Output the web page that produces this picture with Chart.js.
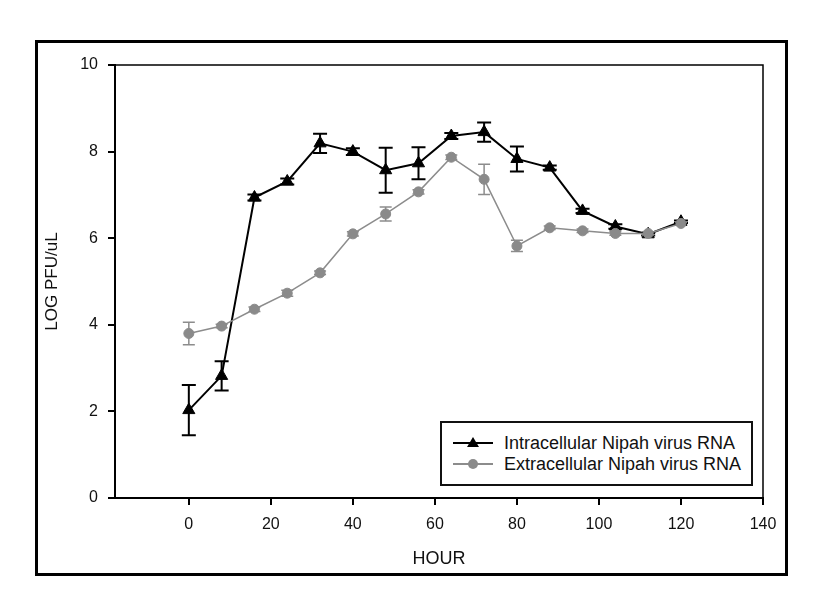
<!DOCTYPE html>
<html>
<head>
<meta charset="utf-8">
<script src="https://cdn.jsdelivr.net/npm/chart.js@4.4.0/dist/chart.umd.min.js"></script>
<style>
  html, body { margin: 0; padding: 0; background: #fff; }
  #wrap { position: relative; width: 824px; height: 612px; }
  #frame { position: absolute; left: 35px; top: 40px; width: 753px; height: 536px;
           border: 3px solid #000; box-sizing: border-box; pointer-events: none; }
  #legend { position: absolute; left: 440px; top: 421px; width: 313px; height: 65px;
            border: 2px solid #111; box-sizing: border-box; background: #fff;
            font-family: 'Liberation Sans', Arial, sans-serif; font-size: 18px; color: #111; }
  .row { position: absolute; left: 11px; height: 20px; width: 300px; }
  .sample { position: absolute; left: 0; top: 0; width: 40px; height: 20px; }
  .sample .ln { position: absolute; left: 0; top: 9px; width: 40px; }
  .sample .mk { position: absolute; }
  .row .txt { position: absolute; left: 51px; top: 0; line-height: 20px; white-space: nowrap; }
</style>
</head>
<body>
<div id="wrap">
  <canvas id="myChart" width="824" height="612"></canvas>
  <div id="frame"></div>
  <div id="legend"></div>
</div>
<script>
// data
const hours = [0, 8, 16, 24, 32, 40, 48, 56, 64, 72, 80, 88, 96, 104, 112, 120];
const intraLabel = 'Intracellular Nipah virus RNA';
const intraLog = [2.03, 2.82, 6.94, 7.31, 8.19, 8.00, 7.57, 7.73, 8.36, 8.45, 7.83, 7.63, 6.63, 6.27, 6.09, 6.38];
const intraErr = [0.58, 0.34, 0.07, 0.07, 0.22, 0.08, 0.52, 0.37, 0.07, 0.22, 0.29, 0.05, 0.05, 0.05, 0.03, 0.03];
const extraLabel = 'Extracellular Nipah virus RNA';
const extraLog = [3.80, 3.97, 4.36, 4.73, 5.20, 6.10, 6.56, 7.07, 7.87, 7.36, 5.82, 6.24, 6.17, 6.11, 6.11, 6.34];
const extraErr = [0.26, 0.04, 0.05, 0.07, 0.04, 0.05, 0.16, 0.05, 0.05, 0.35, 0.13, 0.04, 0.04, 0.04, 0.04, 0.03];
const xTicks = [0, 20, 40, 60, 80, 100, 120, 140];
const yTicks = [0, 2, 4, 6, 8, 10];

const FONT = "'Liberation Sans', Arial, sans-serif";
const BLACK = '#000';
const GREY = '#8a8a8a';

function pts(ys) {
  return hours.map((h, i) => ({ x: h, y: ys[i] }));
}

// error bars drawn through the chart scales
const errorBars = {
  id: 'errorBars',
  beforeDatasetsDraw(chart) {
    const ctx = chart.ctx;
    const xs = chart.scales.x, ys = chart.scales.y;
    chart.data.datasets.forEach((ds) => {
      ctx.save();
      ctx.strokeStyle = ds.errColor;
      ctx.lineWidth = ds.errWidth;
      ds.data.forEach((p, i) => {
        const e = ds.errors[i];
        const x = xs.getPixelForValue(p.x);
        const yt = ys.getPixelForValue(p.y + e);
        const yb = ys.getPixelForValue(p.y - e);
        const c = ds.capHalf;
        ctx.beginPath();
        ctx.moveTo(x, yt); ctx.lineTo(x, yb);
        ctx.moveTo(x - c, yt); ctx.lineTo(x + c, yt);
        ctx.moveTo(x - c, yb); ctx.lineTo(x + c, yb);
        ctx.stroke();
      });
      ctx.restore();
    });
  }
};

// top and right edges of the plot box
const plotBox = {
  id: 'plotBox',
  afterDraw(chart) {
    const { ctx, chartArea: a } = chart;
    ctx.save();
    ctx.strokeStyle = BLACK;
    ctx.lineWidth = 1.5;
    ctx.beginPath();
    ctx.moveTo(a.left, a.top); ctx.lineTo(a.right, a.top); ctx.lineTo(a.right, a.bottom);
    ctx.stroke();
    ctx.restore();
  }
};

const ctx = document.getElementById('myChart');
const chart = new Chart(ctx, {
  type: 'line',
  data: {
    datasets: [
      {
        label: intraLabel,
        data: pts(intraLog),
        errors: intraErr,
        errColor: BLACK, errWidth: 2, capHalf: 7,
        borderColor: BLACK,
        backgroundColor: BLACK,
        borderWidth: 2,
        pointStyle: 'triangle',
        pointRadius: 7,
        pointBorderWidth: 1,
        tension: 0,
        order: 1
      },
      {
        label: extraLabel,
        data: pts(extraLog),
        errors: extraErr,
        errColor: '#8c8c8c', errWidth: 1.5, capHalf: 6,
        borderColor: '#8c8c8c',
        backgroundColor: GREY,
        pointBorderColor: GREY,
        borderWidth: 1.5,
        pointStyle: 'circle',
        pointRadius: 5,
        pointBorderWidth: 1,
        tension: 0,
        order: 0
      }
    ]
  },
  options: {
    responsive: false,
    animation: false,
    layout: { padding: { left: 38, top: 65, right: 61, bottom: 40 } },
    plugins: { legend: { display: false }, tooltip: { enabled: false } },
    scales: {
      x: {
        type: 'linear',
        min: -18,
        max: 140,
        afterBuildTicks: (s) => { s.ticks = xTicks.map(v => ({ value: v })); },
        afterFit: (s) => { s.height = 74; },
        grid: { drawOnChartArea: false, drawTicks: true, tickLength: 7, color: BLACK, lineWidth: 2 },
        border: { display: true, color: BLACK, width: 2 },
        ticks: { color: '#111', font: { family: FONT, size: 16 }, padding: 10, maxRotation: 0 },
        title: { display: true, text: 'HOUR', color: '#111', font: { family: FONT, size: 18 }, padding: { top: 0, bottom: 2 } }
      },
      y: {
        min: 0,
        max: 10,
        afterBuildTicks: (s) => { s.ticks = yTicks.map(v => ({ value: v })); },
        afterFit: (s) => { s.width = 77; },
        grid: { drawOnChartArea: false, drawTicks: true, tickLength: 7, color: BLACK, lineWidth: 2 },
        border: { display: true, color: BLACK, width: 2 },
        ticks: { color: '#111', font: { family: FONT, size: 16 }, padding: 10 },
        title: { display: true, text: 'LOG PFU/uL', color: '#111', font: { family: FONT, size: 17 }, padding: { top: 4, bottom: 0 } }
      }
    }
  },
  plugins: [errorBars, plotBox]
});

// legend box
const legend = document.getElementById('legend');
chart.data.datasets.forEach((ds, i) => {
  const row = document.createElement('div');
  row.className = 'row';
  row.style.top = (i === 0 ? 10 : 31) + 'px';
  const s = document.createElement('div');
  s.className = 'sample';
  const ln = document.createElement('div');
  ln.className = 'ln';
  ln.style.height = (i === 0 ? 2 : 1.5) + 'px';
  ln.style.background = ds.borderColor;
  const mk = document.createElement('div');
  mk.className = 'mk';
  if (ds.pointStyle === 'triangle') {
    mk.style.cssText = 'left:14px;top:4px;width:0;height:0;border-left:6px solid transparent;border-right:6px solid transparent;border-bottom:10px solid ' + ds.backgroundColor + ';';
  } else {
    mk.style.cssText = 'left:15px;top:5px;width:10px;height:10px;border-radius:50%;background:' + ds.backgroundColor + ';';
  }
  s.appendChild(ln);
  s.appendChild(mk);
  const t = document.createElement('span');
  t.className = 'txt';
  t.textContent = ds.label;
  row.appendChild(s);
  row.appendChild(t);
  legend.appendChild(row);
});
</script>
</body>
</html>
